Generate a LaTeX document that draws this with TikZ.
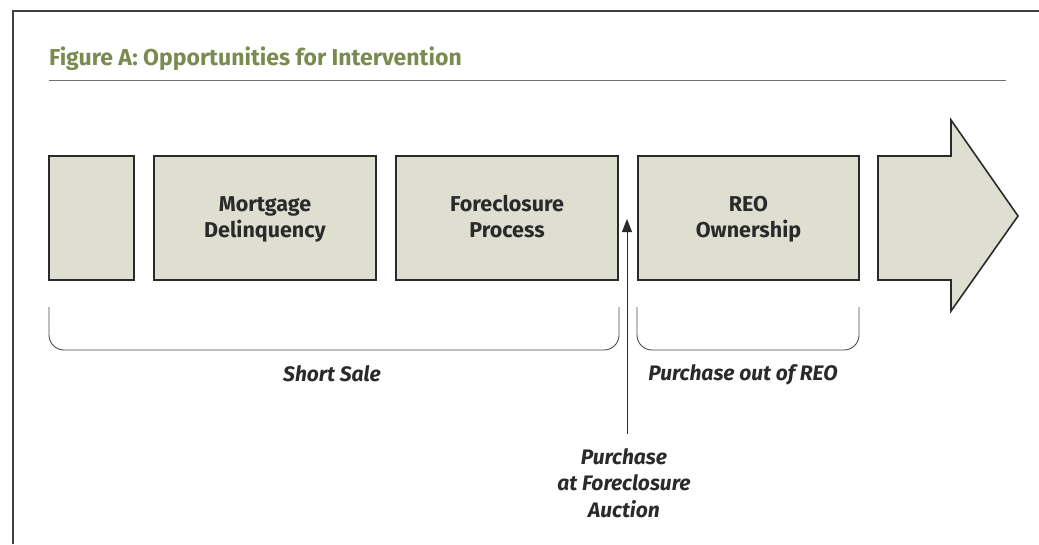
\documentclass[tikz,border=0pt]{standalone}
\usepackage{fontspec}
\setmainfont{Fira Sans}
\usetikzlibrary{arrows.meta}
\definecolor{olive}{HTML}{7B8A4F}
\definecolor{boxfill}{HTML}{DEDFD0}
\definecolor{boxline}{HTML}{2A2A2A}
\definecolor{rulegray}{HTML}{707070}
\tikzset{
  stage/.style={draw=boxline, fill=boxfill, line width=1.6pt, minimum height=124pt, inner sep=0pt,
    font=\fontsize{21.5}{26}\selectfont\bfseries, align=center, text=boxline,
    text height=42pt, text depth=4pt},
  brace/.style={draw=boxline!85, line width=0.9pt, rounded corners=15pt},
  lbl/.style={font=\fontsize{21}{26.5}\selectfont\bfseries\itshape, text=boxline, align=center, inner sep=0pt},
  ttl/.style={font=\fontsize{23}{27}\selectfont\bfseries, text=olive, inner sep=0pt, anchor=base west},
}
\begin{document}
\begin{tikzpicture}[x=1pt,y=-1pt]
\useasboundingbox (0,0) rectangle (1039,544);
% frame
\draw[line width=1.4pt, draw=boxline!90] (13,544) -- (13,11) -- (1039,11);
% title
\node[ttl] (title) at (49,65) {Figure A: Opportunities for Intervention};
\draw[line width=1.6pt, draw=rulegray] (49,80.5) -- (1006,80.5);
% stages
\node[stage, minimum width=85pt] (b1) at (91.5,218) {};
\node[stage, minimum width=222pt] (b2) at (265,218) {Mortgage\\Delinquency};
\node[stage, minimum width=222pt] (b3) at (507,218) {Foreclosure\\Process};
\node[stage, minimum width=221pt] (b4) at (748.5,218) {REO\\Ownership};
\draw[draw=boxline, fill=boxfill, line width=1.6pt, line join=miter]
  (878,156) -- (951,156) -- (951,120) -- (1018,216) -- (951,311) -- (951,280) -- (878,280) -- cycle;
% brackets
\draw[brace] (49,307) -- (49,350) -- (619,350) -- (619,307);
\draw[brace] (637,307) -- (637,350) -- (859,350) -- (859,307);
\node[lbl, anchor=base] (ss) at (332,381) {Short Sale};
\node[lbl, anchor=base] (reo) at (743,380) {Purchase out of REO};
% auction
\node[lbl, anchor=base] (auc) at (624,517) {Purchase\\at Foreclosure\\Auction};
\coordinate (tail) at (627,434);
\coordinate (tip) at (627,219);
\draw[line width=0.9pt, draw=boxline, -{Triangle[length=13pt,width=10pt]}] (tail) -- (tip);
\end{tikzpicture}
\end{document}
